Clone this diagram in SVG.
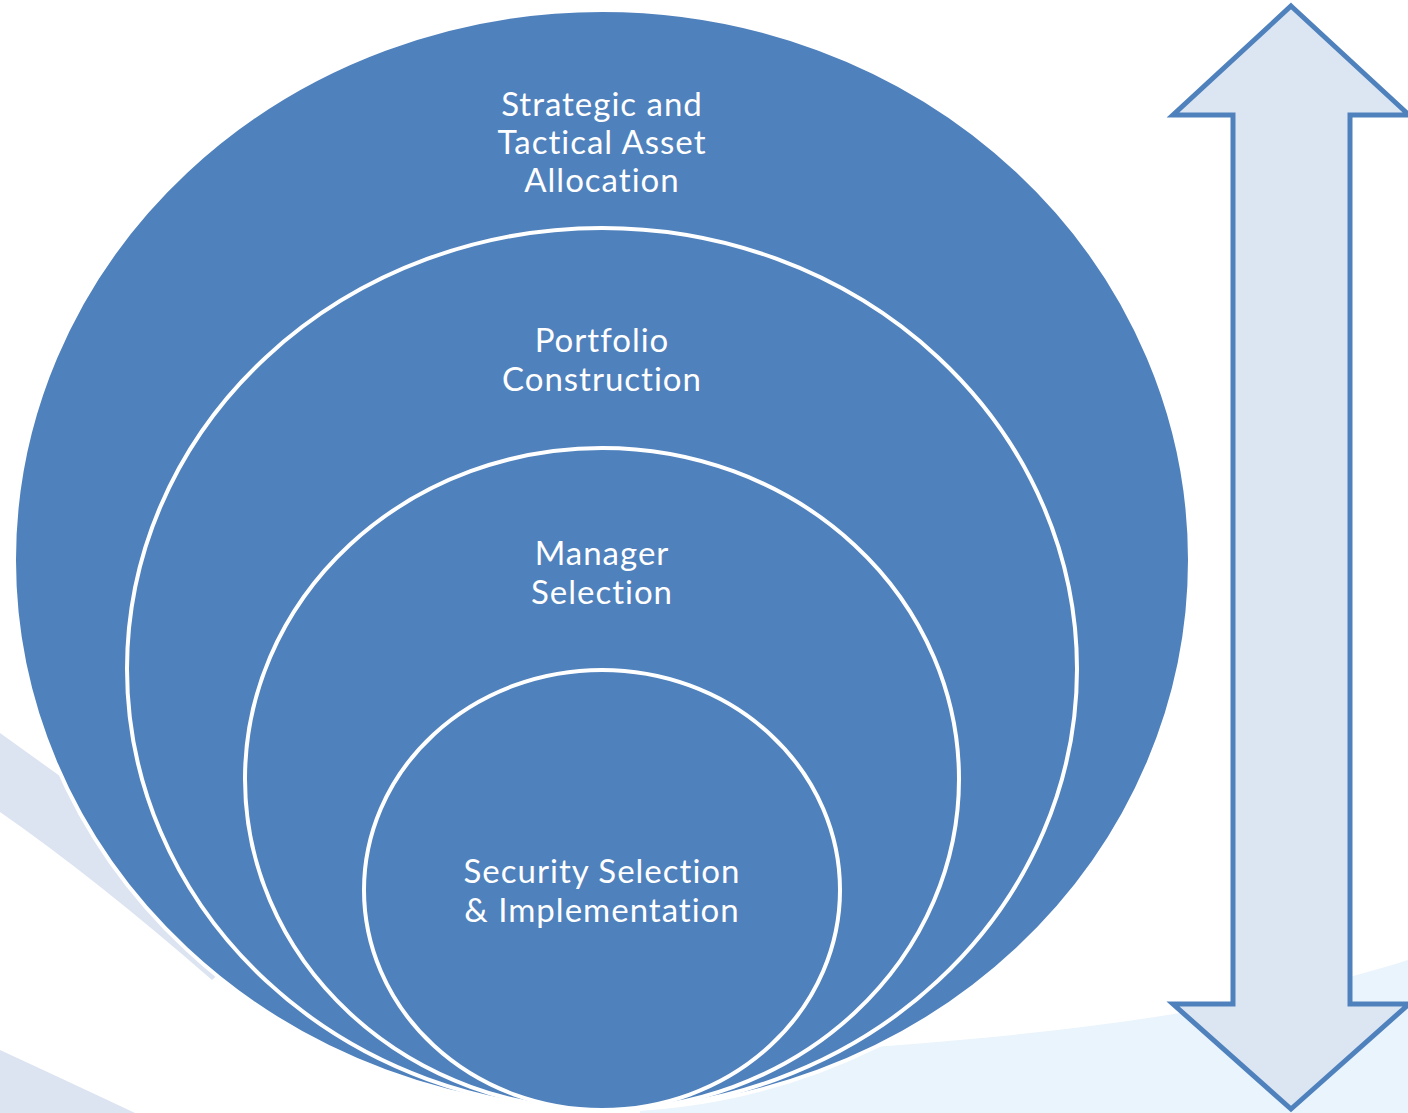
<svg xmlns="http://www.w3.org/2000/svg" width="1408" height="1113" viewBox="0 0 1408 1113">
  <style>
    .ring { fill: #4f81bd; stroke: #ffffff; stroke-width: 4; }
    .label { fill: #ffffff; font-family: Lato, "Open Sans", "Liberation Sans", sans-serif; font-size: 33px; letter-spacing: 1px; text-anchor: middle; }
    .swoosh { fill: #dce3f1; }
    .glow { fill: #eaf4fc; }
    .updown { fill: #dce6f2; stroke: #4f81bd; stroke-width: 5; stroke-linejoin: miter; }
  </style>

  <rect width="1408" height="1113" fill="#ffffff"/>

  <!-- background swooshes -->
  <g id="background">
    <path class="glow" d="M 640,1060 C 950,1046 1200,1026 1408,960 L 1408,1113 L 640,1113 Z"/>
    <path class="swoosh" d="M 0,733 L 110,812 L 300,900 L 212,980 Q 95,878 0,812 Z"/>
    <path class="swoosh" d="M 0,1050 Q 65,1080 135,1113 L 0,1113 Z"/>
  </g>

  <!-- nested levels -->
  <g id="level-allocation">
    <ellipse class="ring" cx="602" cy="560" rx="588" ry="550"/>
    <text class="label" x="602" y="116">Strategic and</text>
    <text class="label" x="602" y="154">Tactical Asset</text>
    <text class="label" x="602" y="192">Allocation</text>
  </g>
  <g id="level-portfolio">
    <ellipse class="ring" cx="602" cy="669" rx="475" ry="441"/>
    <text class="label" x="602" y="352">Portfolio</text>
    <text class="label" x="602" y="391">Construction</text>
  </g>
  <g id="level-manager">
    <ellipse class="ring" cx="602" cy="779" rx="357" ry="331"/>
    <text class="label" x="602" y="565">Manager</text>
    <text class="label" x="602" y="604">Selection</text>
  </g>
  <g id="level-security">
    <ellipse class="ring" cx="602" cy="890" rx="238" ry="220"/>
    <text class="label" x="602" y="883">Security Selection</text>
    <text class="label" x="602" y="922">&amp; Implementation</text>
  </g>

  <!-- double-headed vertical arrow -->
  <g id="connectors">
    <path class="updown" d="M 1291,6 L 1409,115 L 1350,115 L 1350,1004 L 1409,1004 L 1291,1109 L 1173,1004 L 1233,1004 L 1233,115 L 1173,115 Z"/>
  </g>
</svg>
